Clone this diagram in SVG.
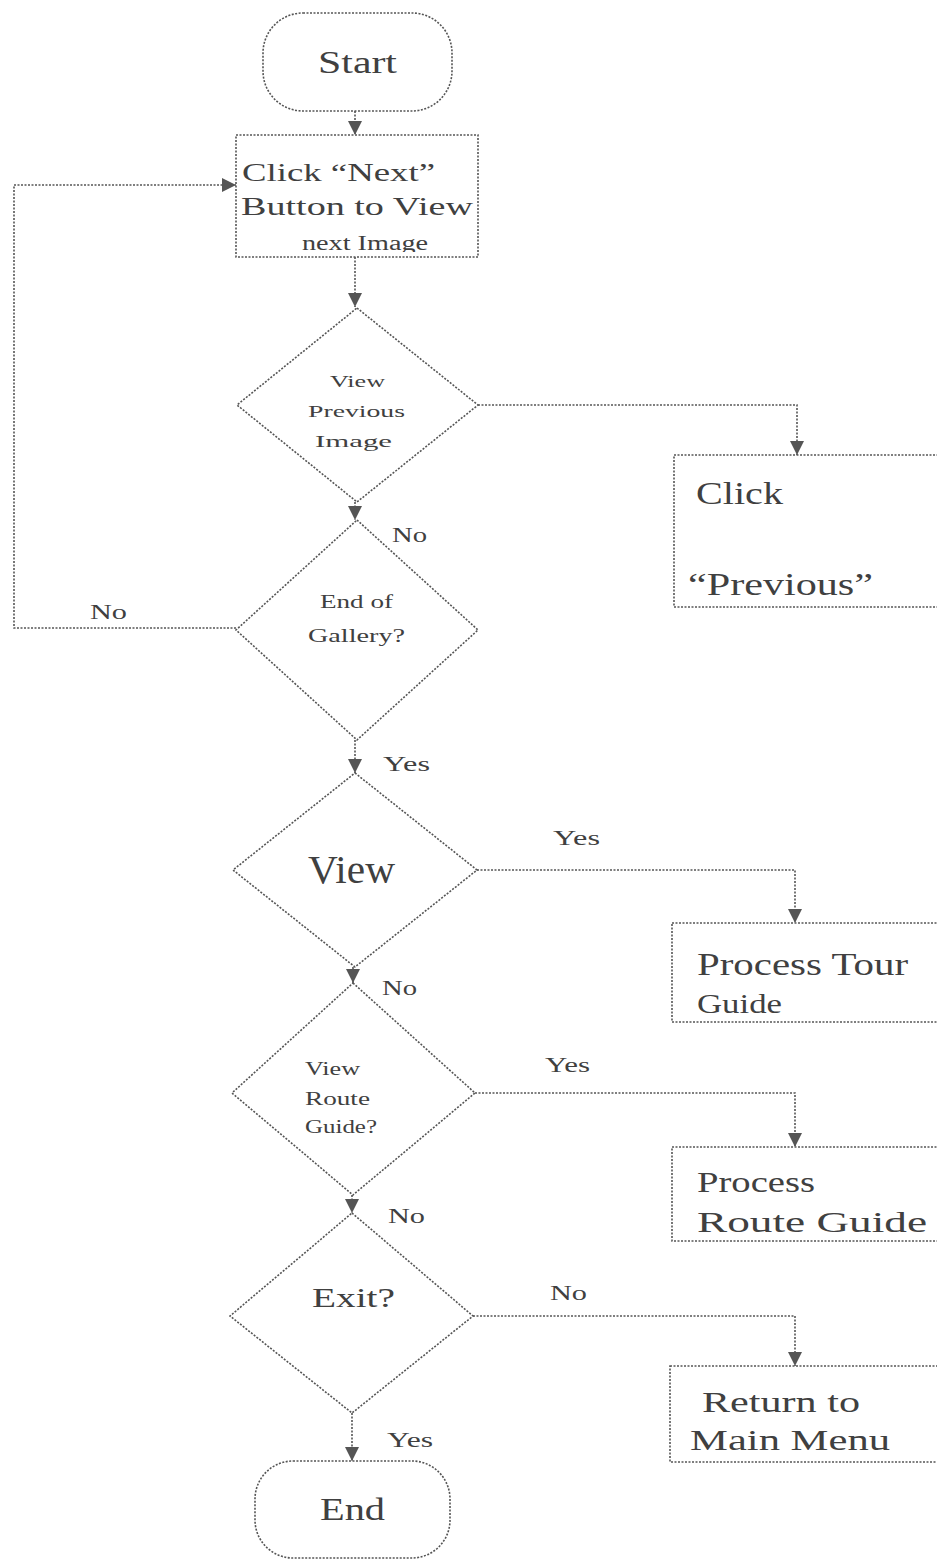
<svg xmlns="http://www.w3.org/2000/svg" width="937" height="1560" viewBox="0 0 937 1560" font-family="'Liberation Serif', 'DejaVu Serif', serif">
<style>
.s{fill:#fff;stroke:#555;stroke-width:1.6;stroke-dasharray:2 1.5}
.c{fill:none;stroke:#555;stroke-width:1.6;stroke-dasharray:2 1.5}
text{font-family:'Liberation Serif','DejaVu Serif',serif;fill:#404040}
</style>
<defs>
<marker id="ah" viewBox="0 0 10 10" refX="10" refY="5" markerWidth="14" markerHeight="14" markerUnits="userSpaceOnUse" orient="auto">
<path d="M0,0 L10,5 L0,10 Z" fill="#555"/>
</marker>
<clipPath id="clipNext"><rect x="236" y="135" width="242" height="117"/></clipPath>
</defs>
<rect width="937" height="1560" fill="#fff"/>
<g id="connectors">
<line class="c" x1="355" y1="111" x2="355" y2="135" marker-end="url(#ah)"/>
<line class="c" x1="355" y1="257" x2="355" y2="307" marker-end="url(#ah)"/>
<polyline class="c" points="478,405 797,405 797,455" marker-end="url(#ah)"/>
<line class="c" x1="355" y1="502" x2="355" y2="520" marker-end="url(#ah)"/>
<polyline class="c" points="236,628 14,628 14,185 236,185" marker-end="url(#ah)"/>
<line class="c" x1="355" y1="740" x2="355" y2="773" marker-end="url(#ah)"/>
<polyline class="c" points="477,870 795,870 795,923" marker-end="url(#ah)"/>
<line class="c" x1="353" y1="967" x2="353" y2="983" marker-end="url(#ah)"/>
<polyline class="c" points="475,1093 795,1093 795,1147" marker-end="url(#ah)"/>
<line class="c" x1="352" y1="1195" x2="352" y2="1213" marker-end="url(#ah)"/>
<polyline class="c" points="473,1316 795,1316 795,1366" marker-end="url(#ah)"/>
<line class="c" x1="352" y1="1413" x2="352" y2="1461" marker-end="url(#ah)"/>
<text x="90" y="619" font-size="22" textLength="37" lengthAdjust="spacingAndGlyphs">No</text>
<text x="392" y="542" font-size="22" textLength="35" lengthAdjust="spacingAndGlyphs">No</text>
<text x="383" y="771" font-size="22" textLength="47" lengthAdjust="spacingAndGlyphs">Yes</text>
<text x="553" y="845" font-size="22" textLength="47" lengthAdjust="spacingAndGlyphs">Yes</text>
<text x="382" y="995" font-size="22" textLength="35" lengthAdjust="spacingAndGlyphs">No</text>
<text x="545" y="1072" font-size="22" textLength="45" lengthAdjust="spacingAndGlyphs">Yes</text>
<text x="388" y="1223" font-size="22" textLength="37" lengthAdjust="spacingAndGlyphs">No</text>
<text x="550" y="1300" font-size="22" textLength="37" lengthAdjust="spacingAndGlyphs">No</text>
<text x="387" y="1447" font-size="22" textLength="46" lengthAdjust="spacingAndGlyphs">Yes</text>
</g>
<g id="start">
<rect class="s" x="263" y="13" width="189" height="98" rx="40"/>
<text x="318" y="73" font-size="31" textLength="79" lengthAdjust="spacingAndGlyphs">Start</text>
</g>
<g id="click-next">
<rect class="s" x="236" y="135" width="242" height="122"/>
<text x="242" y="181" font-size="26" textLength="193" lengthAdjust="spacingAndGlyphs">Click “Next”</text>
<text x="241" y="215" font-size="26" textLength="232" lengthAdjust="spacingAndGlyphs">Button to View</text>
<text x="302" y="250" font-size="20" textLength="126" lengthAdjust="spacingAndGlyphs" clip-path="url(#clipNext)">next Image</text>
</g>
<g id="view-previous">
<polygon class="s" points="357,308 478,405 357,502 237,405"/>
<text x="330" y="387" font-size="17" textLength="55" lengthAdjust="spacingAndGlyphs">View</text>
<text x="308" y="417" font-size="17" textLength="97" lengthAdjust="spacingAndGlyphs">Previous</text>
<text x="315" y="447" font-size="17" textLength="77" lengthAdjust="spacingAndGlyphs">Image</text>
</g>
<g id="click-previous">
<rect class="s" x="674" y="455" width="275" height="152"/>
<text x="696" y="504" font-size="31" textLength="87" lengthAdjust="spacingAndGlyphs">Click</text>
<text x="688" y="595" font-size="31" textLength="185" lengthAdjust="spacingAndGlyphs">“Previous”</text>
</g>
<g id="end-of-gallery">
<polygon class="s" points="357,520 478,630 357,740 236,630"/>
<text x="320" y="608" font-size="19" textLength="73" lengthAdjust="spacingAndGlyphs">End of</text>
<text x="308" y="642" font-size="19" textLength="97" lengthAdjust="spacingAndGlyphs">Gallery?</text>
</g>
<g id="view">
<polygon class="s" points="355,773 477,870 355,967 233,870"/>
<text x="308" y="883" font-size="40" textLength="87" lengthAdjust="spacingAndGlyphs">View</text>
</g>
<g id="process-tour">
<rect class="s" x="672" y="923" width="277" height="99"/>
<text x="697" y="975" font-size="32" textLength="211" lengthAdjust="spacingAndGlyphs">Process Tour</text>
<text x="697" y="1013" font-size="28" textLength="85" lengthAdjust="spacingAndGlyphs">Guide</text>
</g>
<g id="view-route">
<polygon class="s" points="353,983 475,1093 353,1195 232,1093"/>
<text x="305" y="1075" font-size="18" textLength="55" lengthAdjust="spacingAndGlyphs">View</text>
<text x="305" y="1105" font-size="18" textLength="65" lengthAdjust="spacingAndGlyphs">Route</text>
<text x="305" y="1133" font-size="18" textLength="72" lengthAdjust="spacingAndGlyphs">Guide?</text>
</g>
<g id="process-route">
<rect class="s" x="672" y="1147" width="277" height="94"/>
<text x="697" y="1192" font-size="30" textLength="118" lengthAdjust="spacingAndGlyphs">Process</text>
<text x="697" y="1232" font-size="30" textLength="230" lengthAdjust="spacingAndGlyphs">Route Guide</text>
</g>
<g id="exit">
<polygon class="s" points="352,1213 473,1316 352,1413 230,1316"/>
<text x="312" y="1307" font-size="28" textLength="83" lengthAdjust="spacingAndGlyphs">Exit?</text>
</g>
<g id="return-menu">
<rect class="s" x="670" y="1366" width="279" height="96"/>
<text x="702" y="1412" font-size="30" textLength="158" lengthAdjust="spacingAndGlyphs">Return to</text>
<text x="690" y="1450" font-size="30" textLength="200" lengthAdjust="spacingAndGlyphs">Main  Menu</text>
</g>
<g id="end">
<rect class="s" x="255" y="1461" width="195" height="97" rx="38"/>
<text x="320" y="1520" font-size="31" textLength="65" lengthAdjust="spacingAndGlyphs">End</text>
</g>
</svg>
